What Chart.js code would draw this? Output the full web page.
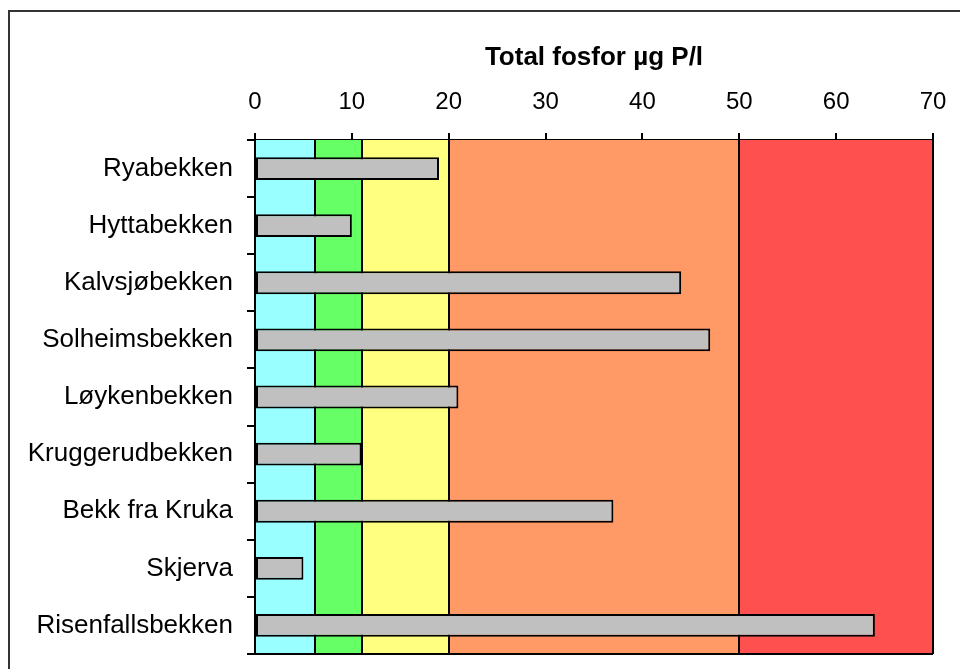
<!DOCTYPE html>
<html>
<head>
<meta charset="utf-8">
<script src="https://cdn.jsdelivr.net/npm/chart.js@4.4.1/dist/chart.umd.min.js"></script>
<style>
  html, body { margin: 0; padding: 0; background: #fff; }
  #wrap { width: 960px; height: 669px; }
</style>
</head>
<body>
<div id="wrap"><canvas id="myChart" width="960" height="669"></canvas></div>
<script>
// stasjoner og total fosfor (µg P/l)
var stasjoner = ["Ryabekken", "Hyttabekken", "Kalvsjøbekken", "Solheimsbekken", "Løykenbekken",
                 "Kruggerudbekken", "Bekk fra Kruka", "Skjerva", "Risenfallsbekken"];
var fosfor = [19, 10, 44, 47, 21, 11, 37, 5, 64];

// tilstandsklasser (grenser og farger)
var klasseGrenser = [0, 6.2, 11, 20, 50, 70];
var klasseFarger = ["#99ffff", "#66ff66", "#ffff80", "#ff9966", "#ff5050"];

var xTicks = [0, 10, 20, 30, 40, 50, 60, 70];

// bakgrunn med klassefarger
var klassePlugin = {
    id: "klasser",
    beforeDatasetsDraw: function(chart){
        var ctx = chart.ctx;
        var x = chart.scales.x;
        var a = chart.chartArea;
        ctx.save();
        for (var i = 0; i < klasseFarger.length; i++) {
            var x0 = x.getPixelForValue(klasseGrenser[i]);
            var x1 = x.getPixelForValue(klasseGrenser[i+1]);
            ctx.fillStyle = klasseFarger[i];
            ctx.fillRect(x0, a.top, x1 - x0, a.bottom - a.top);
        }
        ctx.strokeStyle = "#000";
        ctx.lineWidth = 2;
        for (var j = 0; j < klasseGrenser.length; j++) {
            var px = Math.round(x.getPixelForValue(klasseGrenser[j]));
            ctx.beginPath();
            ctx.moveTo(px, a.top);
            ctx.lineTo(px, a.bottom);
            ctx.stroke();
        }
        ctx.beginPath();
        ctx.moveTo(a.left, a.bottom);
        ctx.lineTo(a.right, a.bottom);
        ctx.stroke();
        ctx.restore();
    }
};

// ramme rundt hele figuren
var rammePlugin = {
    id: "ramme",
    afterDraw: function(chart){
        var ctx = chart.ctx;
        ctx.save();
        ctx.strokeStyle = "#333";
        ctx.lineWidth = 2;
        ctx.strokeRect(9, 11, 1200, 1200);
        ctx.restore();
    }
};

new Chart("myChart", {
    type: "bar",
    data: {
        labels: stasjoner,
        datasets: [{
            data: fosfor,
            backgroundColor: "#c0c0c0",
            borderColor: "#000",
            borderWidth: 2,
            borderSkipped: false,
            barPercentage: 0.8,
            categoryPercentage: 0.5
        }]
    },
    plugins: [klassePlugin, rammePlugin],
    options: {
        indexAxis: "y",
        responsive: false,
        animation: false,
        layout: { padding: { top: 0, right: 27, bottom: 15, left: 0 } },
        plugins: {
            legend: { display: false },
            tooltip: { enabled: false }
        },
        scales: {
            x: {
                position: "top",
                min: 0,
                max: 70,
                afterBuildTicks: function(s){ s.ticks = xTicks.map(function(v){ return {value: v}; }); },
                afterFit: function(s){ s.height = 140; s.paddingLeft = 0; s.paddingRight = 0; },
                border: { color: "#000", width: 2 },
                grid: { drawOnChartArea: false, color: "#000", lineWidth: 2, tickLength: 7 },
                ticks: { color: "#000", padding: 16, maxRotation: 0,
                         font: { family: "Liberation Sans, Arial", size: 24 } },
                title: {
                    display: true,
                    text: "Total fosfor µg P/l",
                    color: "#000",
                    padding: { top: 42, bottom: 0 },
                    font: { family: "Liberation Sans, Arial", size: 26, weight: "bold" }
                }
            },
            y: {
                afterFit: function(s){ s.width = 255; s.paddingTop = 0; s.paddingBottom = 0; },
                border: { color: "#000", width: 2 },
                grid: { drawOnChartArea: false, color: "#000", lineWidth: 2, tickLength: 8, offset: true },
                ticks: { color: "#000", padding: 14,
                         font: { family: "Liberation Sans, Arial", size: 26 } }
            }
        }
    }
});
</script>
</body>
</html>
